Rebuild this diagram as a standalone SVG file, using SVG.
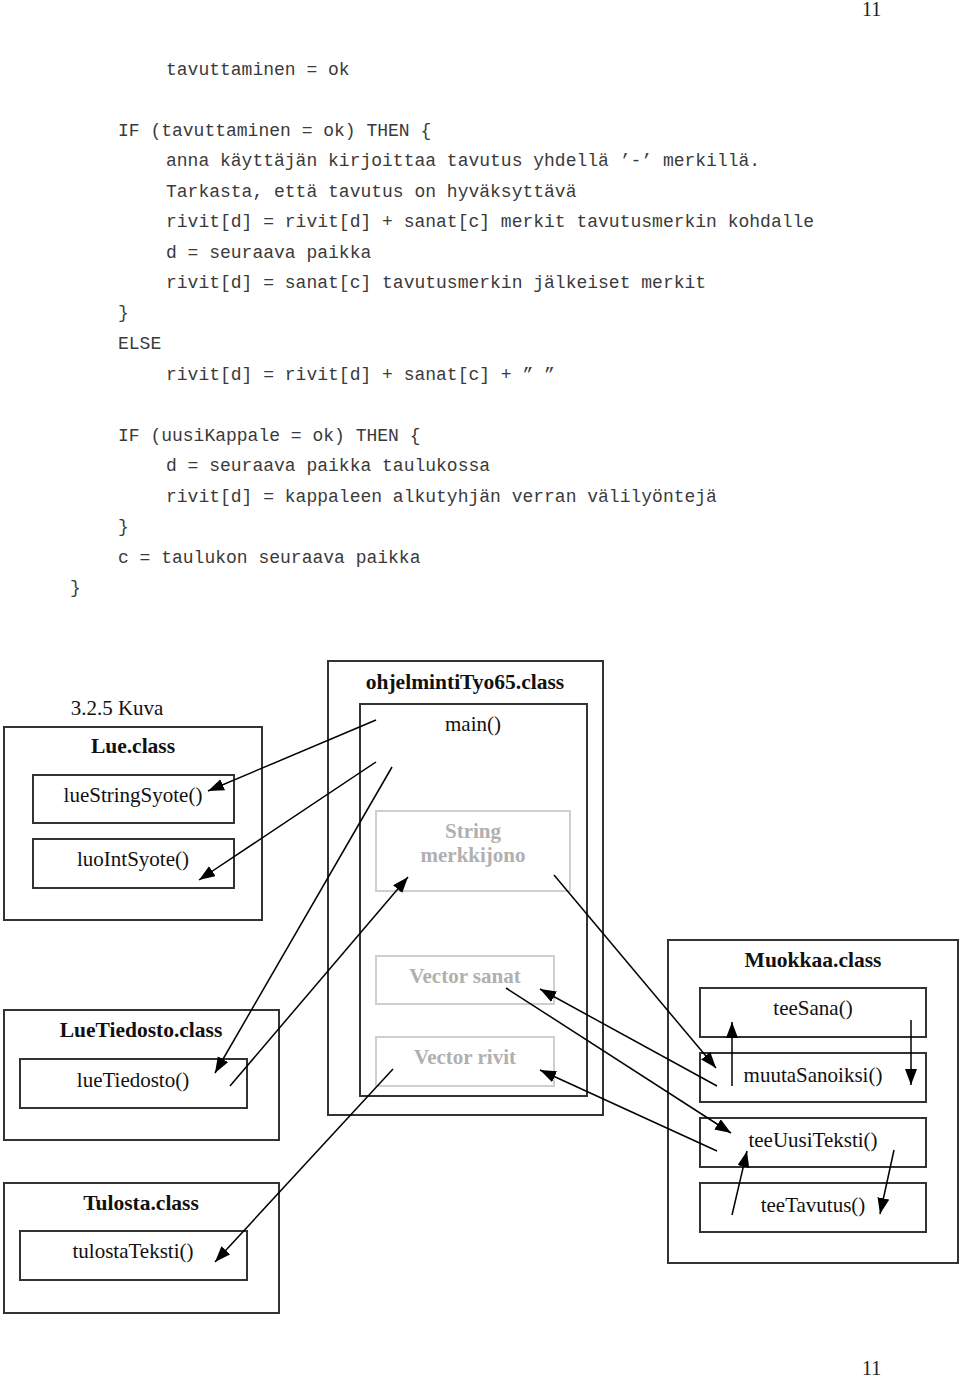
<svg xmlns="http://www.w3.org/2000/svg" width="960" height="1378" viewBox="0 0 960 1378">
<style>
.code{font-family:"Liberation Mono","DejaVu Sans Mono",monospace;font-size:18px;fill:#3a3a3a;}
.pg{font-family:"Liberation Serif",serif;font-size:20px;fill:#222;}
.t{font-family:"Liberation Serif",serif;font-size:21px;fill:#111;text-anchor:middle;}
.b{font-family:"Liberation Serif",serif;font-size:21.5px;font-weight:bold;fill:#111;text-anchor:middle;}
.g{font-family:"Liberation Serif",serif;font-size:21px;font-weight:bold;fill:#b0b0b0;text-anchor:middle;}
.box{fill:none;stroke:#333;stroke-width:2;}
.gbox{fill:none;stroke:#cfcfcf;stroke-width:2;}
.c{fill:none;stroke:#000;stroke-width:1.5;marker-end:url(#ah);}
</style>
<defs>
<marker id="ah" markerUnits="userSpaceOnUse" markerWidth="18" markerHeight="14" refX="16" refY="6" orient="auto">
<path d="M0,0 L16,6 L0,12 z" fill="#000"/>
</marker>
</defs>
<rect width="960" height="1378" fill="#fff"/>
<text class="pg" x="862" y="16">11</text>
<text class="pg" x="862" y="1375">11</text>
<g id="code">
<text class="code" x="166" y="75">tavuttaminen = ok</text>
<text class="code" x="118" y="136">IF (tavuttaminen = ok) THEN {</text>
<text class="code" x="166" y="166">anna käyttäjän kirjoittaa tavutus yhdellä ’-’ merkillä.</text>
<text class="code" x="166" y="197">Tarkasta, että tavutus on hyväksyttävä</text>
<text class="code" x="166" y="227">rivit[d] = rivit[d] + sanat[c] merkit tavutusmerkin kohdalle</text>
<text class="code" x="166" y="258">d = seuraava paikka</text>
<text class="code" x="166" y="288">rivit[d] = sanat[c] tavutusmerkin jälkeiset merkit</text>
<text class="code" x="118" y="318">}</text>
<text class="code" x="118" y="349">ELSE</text>
<text class="code" x="166" y="380">rivit[d] = rivit[d] + sanat[c] + ” ”</text>
<text class="code" x="118" y="441">IF (uusiKappale = ok) THEN {</text>
<text class="code" x="166" y="471">d = seuraava paikka taulukossa</text>
<text class="code" x="166" y="502">rivit[d] = kappaleen alkutyhjän verran välilyöntejä</text>
<text class="code" x="118" y="532">}</text>
<text class="code" x="118" y="563">c = taulukon seuraava paikka</text>
<text class="code" x="70" y="593">}</text>
</g>
<text id="caption" class="t" x="117" y="715">3.2.5 Kuva</text>
<g id="lue">
<rect class="box" x="4" y="727" width="258" height="193"/>
<text class="b" x="133" y="753">Lue.class</text>
<rect class="box" x="33" y="775" width="201" height="48"/>
<text class="t" x="133" y="802">lueStringSyote()</text>
<rect class="box" x="33" y="839" width="201" height="49"/>
<text class="t" x="133" y="866">luoIntSyote()</text>
</g>
<g id="ohjelminti">
<rect class="box" x="328" y="661" width="275" height="454"/>
<text class="b" x="465" y="689">ohjelmintiTyo65.class</text>
<rect class="box" x="360" y="704" width="227" height="392"/>
<text class="t" x="473" y="731">main()</text>
<rect class="gbox" x="376" y="811" width="194" height="80"/>
<text class="g" x="473" y="838">String</text>
<text class="g" x="473" y="862">merkkijono</text>
<rect class="gbox" x="376" y="956" width="178" height="48"/>
<text class="g" x="465" y="983">Vector sanat</text>
<rect class="gbox" x="376" y="1037" width="178" height="49"/>
<text class="g" x="465" y="1064">Vector rivit</text>
</g>
<g id="luetiedosto">
<rect class="box" x="4" y="1010" width="275" height="130"/>
<text class="b" x="141" y="1037">LueTiedosto.class</text>
<rect class="box" x="20" y="1059" width="227" height="49"/>
<text class="t" x="133" y="1087">lueTiedosto()</text>
</g>
<g id="tulosta">
<rect class="box" x="4" y="1183" width="275" height="130"/>
<text class="b" x="141" y="1210">Tulosta.class</text>
<rect class="box" x="20" y="1231" width="227" height="49"/>
<text class="t" x="133" y="1258">tulostaTeksti()</text>
</g>
<g id="muokkaa">
<rect class="box" x="668" y="940" width="290" height="323"/>
<text class="b" x="813" y="967">Muokkaa.class</text>
<rect class="box" x="700" y="988" width="226" height="49"/>
<text class="t" x="813" y="1015">teeSana()</text>
<rect class="box" x="700" y="1053" width="226" height="49"/>
<text class="t" x="813" y="1082">muutaSanoiksi()</text>
<rect class="box" x="700" y="1118" width="226" height="49"/>
<text class="t" x="813" y="1147">teeUusiTeksti()</text>
<rect class="box" x="700" y="1183" width="226" height="49"/>
<text class="t" x="813" y="1212">teeTavutus()</text>
</g>
<g id="connectors">
<line class="c" x1="376" y1="720" x2="208" y2="791"/>
<line class="c" x1="376" y1="762" x2="199" y2="880"/>
<line class="c" x1="392" y1="767" x2="215" y2="1073"/>
<line class="c" x1="230" y1="1086" x2="408" y2="877"/>
<line class="c" x1="554" y1="875" x2="716" y2="1068"/>
<line class="c" x1="717" y1="1086" x2="540" y2="989"/>
<line class="c" x1="506" y1="988" x2="731" y2="1133"/>
<line class="c" x1="717" y1="1151" x2="540" y2="1070"/>
<line class="c" x1="393" y1="1069" x2="215" y2="1262"/>
<line class="c" x1="732" y1="1086" x2="732" y2="1022"/>
<line class="c" x1="911" y1="1020" x2="911" y2="1085"/>
<line class="c" x1="732" y1="1215" x2="747" y2="1151"/>
<line class="c" x1="894" y1="1150" x2="880" y2="1214"/>
</g>
</svg>
